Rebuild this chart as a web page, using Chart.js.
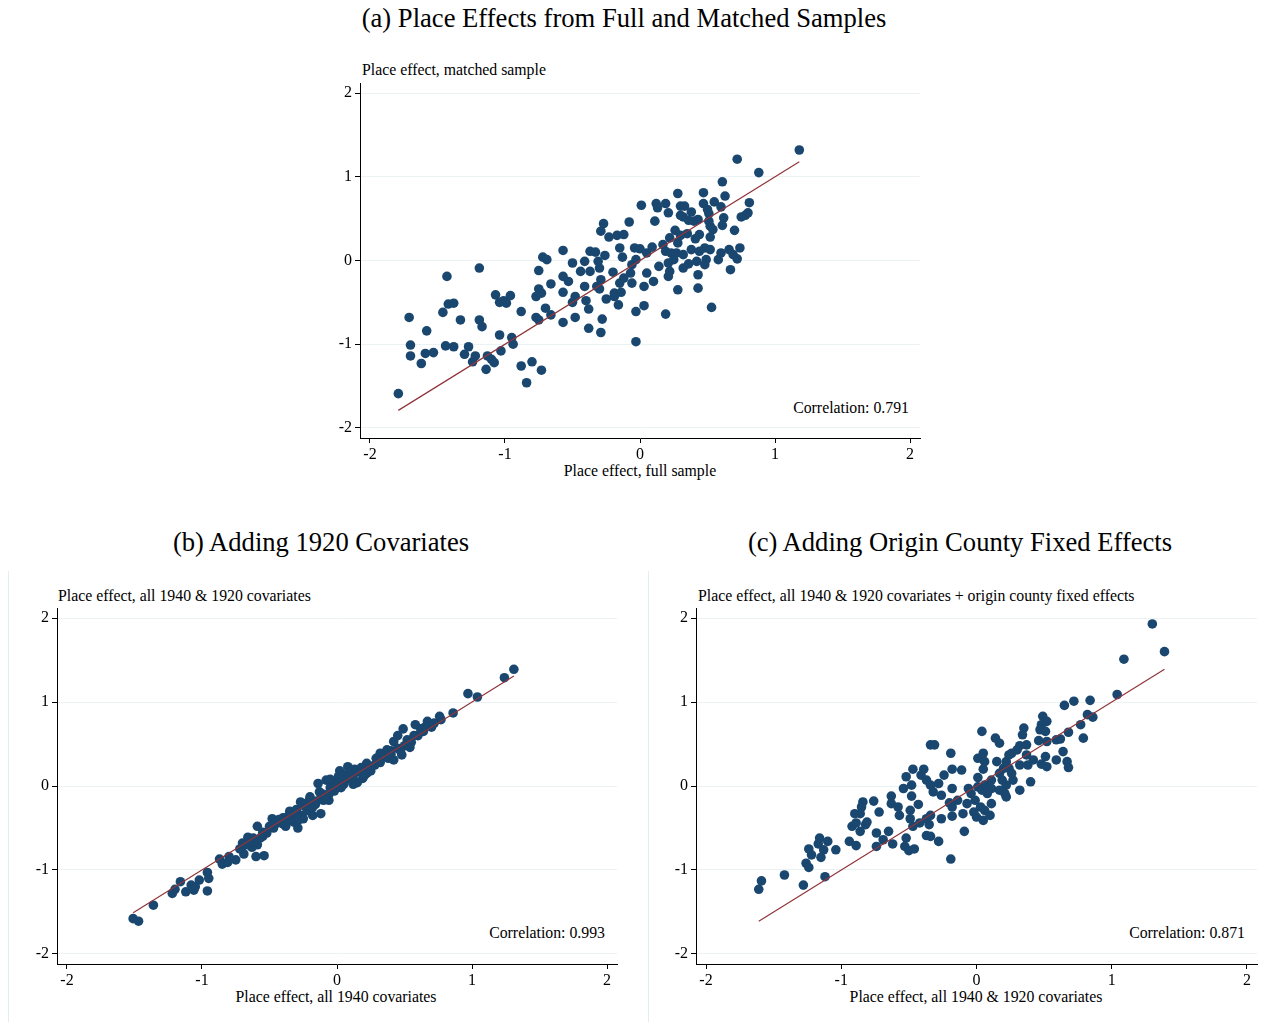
<!DOCTYPE html>
<html>
<head>
<meta charset="utf-8">
<script src="https://cdn.jsdelivr.net/npm/chart.js@4.4.1/dist/chart.umd.min.js"></script>
<style>
    body {
        margin: 0;
        width: 1262px;
        height: 1022px;
        overflow: hidden;
        position: relative;
        background: #fff;
        color: #000;
        font-family: 'Times New Roman', 'Liberation Serif', serif;
    }
    canvas { position: absolute; }
    .txt { position: absolute; white-space: nowrap; line-height: 1; }
    .title { font-size: 26.6px; transform: translate(-50%, -50%); }
    .ytitle { font-size: 15.8px; transform: translateY(-50%); }
    .xtitle { font-size: 15.8px; transform: translate(-50%, -50%); }
    .corr { font-size: 15.8px; transform: translateY(-50%); text-align: right; }
    .frame { position: absolute; top: 571px; height: 451px; border-left: 1px solid #e4edf0; }
</style>
</head>
<body>
<div class="frame" style="left:8px"></div>
<div class="frame" style="left:648px"></div>

<div class="txt title" style="left:624px; top:18px">(a) Place Effects from Full and Matched Samples</div>
<div class="txt ytitle" style="left:362px; top:70px">Place effect, matched sample</div>
<div class="txt xtitle" style="left:640px; top:471px">Place effect, full sample</div>
<div class="txt corr" id="corrA" style="right:353px; top:408px"></div>
<canvas id="chartA" width="640" height="430" style="left:300px; top:60px"></canvas>

<div class="txt title" style="left:321px; top:542px">(b) Adding 1920 Covariates</div>
<div class="txt ytitle" style="left:58px; top:596px">Place effect, all 1940 &amp; 1920 covariates</div>
<div class="txt xtitle" style="left:336px; top:997px">Place effect, all 1940 covariates</div>
<div class="txt corr" id="corrB" style="right:657px; top:933px"></div>
<canvas id="chartB" width="640" height="432" style="left:0px; top:590px"></canvas>

<div class="txt title" style="left:960px; top:542px">(c) Adding Origin County Fixed Effects</div>
<div class="txt ytitle" style="left:698px; top:596px">Place effect, all 1940 &amp; 1920 covariates + origin county fixed effects</div>
<div class="txt xtitle" style="left:976px; top:997px">Place effect, all 1940 &amp; 1920 covariates</div>
<div class="txt corr" id="corrC" style="right:17px; top:933px"></div>
<canvas id="chartC" width="622" height="432" style="left:640px; top:590px"></canvas>

<script>
// tick values shared by all axes
const tickValues = [-2, -1, 0, 1, 2];

// correlations printed in each panel
const corrA = 0.791;
const corrB = 0.993;
const corrC = 0.871;

// (a) full sample (x) vs matched sample (y)
const fullVsMatched = [
    [-1.79,-1.59],[-1.71,-0.68],[-1.70,-1.01],[-1.70,-1.14],[-1.62,-1.23],[-1.59,-1.11],[-1.53,-1.10],
    [-1.58,-0.84],[-1.44,-1.02],[-1.38,-1.03],[-1.46,-0.62],[-1.43,-0.19],[-1.42,-0.52],[-1.38,-0.51],
    [-1.33,-0.71],[-1.30,-1.12],[-1.27,-1.03],[-1.24,-1.21],[-1.22,-1.14],[-1.19,-0.09],[-1.19,-0.71],
    [-1.17,-0.79],[-1.14,-1.30],[-1.13,-1.14],[-1.10,-1.18],[-1.08,-1.22],[-1.07,-0.41],[-1.04,-0.50],
    [-1.01,-0.48],[-0.99,-0.51],[-0.96,-0.42],[-1.04,-0.89],[-1.03,-1.08],[-0.95,-0.92],[-0.94,-1.00],
    [-0.88,-0.61],[-0.88,-1.26],[-0.84,-1.46],[-0.80,-1.21],[-0.77,-0.43],[-0.75,-0.34],[-0.77,-0.68],
    [-0.75,-0.71],[-0.75,-0.12],[-0.73,-1.31],[-0.03,-0.97],
    [1.18,1.32],[0.72,1.21],[0.88,1.05],[0.61,0.94],[0.28,0.80],[0.47,0.81],[0.63,0.77],[0.01,0.66],
    [0.12,0.68],[0.13,0.63],[0.19,0.68],[0.21,0.57],[0.30,0.65],[0.33,0.65],[0.47,0.68],[0.55,0.70],
    [0.50,0.61],[0.60,0.64],[0.81,0.69],[0.38,0.58],[0.30,0.54],[0.32,0.52],[0.36,0.48],[0.40,0.47],
    [0.43,0.49],[0.51,0.56],[0.51,0.47],[0.52,0.41],[0.54,0.37],[0.62,0.51],[0.61,0.42],[0.75,0.52],
    [0.78,0.54],[0.80,0.57],[0.70,0.36],[-0.27,0.44],[-0.08,0.46],[0.11,0.47],[-0.29,0.35],[-0.23,0.28],
    [-0.17,0.30],[-0.12,0.31],[0.26,0.36],[0.30,0.30],[0.35,0.32],[0.44,0.31],[0.41,0.26],[0.52,0.28],
    [0.22,0.27],[0.28,0.21],[-0.57,0.12],[-0.72,0.04],[-0.69,0.01],[-0.37,0.11],[-0.33,0.10],[-0.26,0.06],
    [-0.15,0.15],[-0.13,0.04],[-0.04,0.15],[0.00,0.14],[0.05,0.09],[0.09,0.16],[0.17,0.19],[0.19,0.11],
    [0.23,0.09],[0.27,0.09],[0.32,0.07],[0.38,0.13],[0.44,0.11],[0.48,0.15],[0.52,0.13],[0.60,0.09],
    [0.66,0.13],[0.74,0.15],[0.69,0.07],[0.72,0.02],[0.58,0.01],[0.49,0.01],[0.42,-0.01],[0.36,-0.04],
    [0.48,-0.05],[0.32,-0.09],[0.25,0.01],[0.21,-0.03],[0.14,-0.07],[0.22,-0.13],[0.21,-0.19],[0.43,-0.17],
    [0.67,-0.11],[0.05,-0.15],[0.10,-0.25],[0.03,-0.31],[-0.06,-0.05],[-0.03,0.01],[-0.07,-0.15],
    [-0.12,-0.21],[-0.15,-0.27],[-0.06,-0.27],[-0.20,-0.14],[-0.30,-0.09],[-0.31,-0.01],[-0.41,-0.01],
    [-0.44,-0.13],[-0.37,-0.13],[-0.50,-0.03],[-0.57,-0.19],[-0.53,-0.25],[-0.66,-0.28],[-0.73,-0.39],
    [-0.57,-0.38],[-0.41,-0.31],[-0.32,-0.31],[-0.29,-0.23],[-0.30,-0.34],[-0.19,-0.39],[-0.14,-0.38],
    [-0.19,-0.43],[-0.25,-0.46],[-0.16,-0.53],[-0.48,-0.43],[-0.50,-0.50],[-0.40,-0.48],[-0.38,-0.58],
    [-0.70,-0.57],[-0.66,-0.65],[-0.57,-0.74],[-0.48,-0.68],[-0.28,-0.70],[-0.38,-0.81],[-0.29,-0.86],
    [-0.03,-0.61],[0.03,-0.54],[0.19,-0.64],[0.28,-0.35],[0.43,-0.33],[0.53,-0.56]
];

// (b) all 1940 covariates (x) vs all 1940 & 1920 covariates (y)
const with1920 = [
    [-1.51,-1.58],[-1.47,-1.61],[-1.36,-1.42],[-1.22,-1.28],[-1.20,-1.23],[-1.16,-1.14],[-1.12,-1.26],
    [-1.08,-1.18],[-1.06,-1.24],[-1.02,-1.12],[-1.05,-1.20],[-0.96,-1.25],[-0.95,-1.10],[-0.96,-1.03],
    [-0.87,-0.87],[-0.85,-0.93],[-0.81,-0.91],[-0.75,-0.88],[-0.69,-0.81],[-0.70,-0.72],[-0.66,-0.61],
    [-0.63,-0.73],[-0.60,-0.84],[-0.59,-0.70],[-0.54,-0.83],[-0.59,-0.48],[-0.55,-0.60],[-0.52,-0.56],
    [-0.48,-0.39],[-0.44,-0.44],[-0.38,-0.48],[-0.37,-0.37],[-0.32,-0.43],[-0.29,-0.50],[-0.26,-0.35],
    [-0.25,-0.39],[-0.27,-0.19],[-0.25,-0.23],[-0.18,-0.35],[-0.12,-0.33],[-0.12,-0.09],[-0.10,-0.17],
    [-0.06,-0.17],[-0.02,-0.06],[-0.18,-0.25],[-0.34,-0.35],[-0.20,-0.13],[-0.13,-0.07],[-0.14,0.03],
    [-0.08,0.07],[-0.02,0.04],[0.05,0.02],[0.01,0.11],[0.10,0.17],[0.08,0.23],[0.15,0.04],[0.19,0.09],
    [0.17,0.17],[0.22,0.15],[0.22,0.27],[0.29,0.33],[0.32,0.39],[0.37,0.43],[0.42,0.31],[0.48,0.37],
    [0.54,0.46],[0.42,0.53],[0.45,0.60],[0.49,0.68],[0.64,0.65],[0.58,0.73],[0.67,0.77],[0.77,0.79],
    [0.76,0.83],[0.86,0.87],[1.04,1.06],[0.97,1.10],[1.24,1.29],[1.31,1.39],
    [-0.45,-0.42],[-0.40,-0.38],[-0.35,-0.30],[-0.30,-0.28],[-0.22,-0.20],[-0.20,-0.15],[-0.15,-0.18],
    [-0.10,-0.10],[-0.05,-0.02],[0.00,0.05],[0.03,-0.02],[0.07,0.10],[0.12,0.12],[0.15,0.18],[0.25,0.22],
    [0.28,0.25],[0.30,0.30],[0.35,0.35],[0.38,0.33],[0.40,0.42],[0.45,0.45],[0.50,0.48],[0.52,0.55],
    [0.60,0.60],[0.70,0.70],[0.62,0.68],[-0.55,-0.55],[-0.62,-0.62],[-0.66,-0.70],[-0.72,-0.75],
    [-0.80,-0.84],[-0.47,-0.50],[-0.40,-0.45],[0.20,0.22],[0.10,0.08],[-0.06,-0.10],
    [0.02,0.18],[0.08,0.15],[0.13,0.20],[0.18,0.22],[0.20,0.12],[0.25,0.18],[0.12,0.02],[0.03,0.08],
    [-0.05,0.08],[-0.70,-0.68],[-0.62,-0.66],[-0.57,-0.62],[-0.50,-0.48],[-0.43,-0.40],[-0.35,-0.40],
    [-0.30,-0.33],[-0.28,-0.40],[-0.22,-0.29],[-0.16,-0.22],[-0.08,-0.13],[0.32,0.28],[0.40,0.38],
    [0.47,0.42],[0.55,0.52],[0.57,0.60],[0.65,0.70],[0.72,0.75]
];

// (c) all 1940 & 1920 covariates (x) vs + origin county fixed effects (y)
const withCountyFE = [
    [-1.61,-1.23],[-1.59,-1.13],[-1.42,-1.06],[-1.28,-1.18],[-1.12,-1.08],[-1.26,-0.92],[-1.24,-0.97],
    [-1.24,-0.75],[-1.22,-0.82],[-1.15,-0.85],[-1.17,-0.69],[-1.16,-0.62],[-1.13,-0.76],[-1.10,-0.66],
    [-1.04,-0.76],[-0.94,-0.66],[-0.89,-0.71],[-0.92,-0.48],[-0.89,-0.44],[-0.86,-0.54],[-0.90,-0.33],
    [-0.86,-0.33],[-0.84,-0.19],[-0.85,-0.25],[-0.82,-0.46],[-0.81,-0.43],[-0.76,-0.18],[-0.72,-0.31],
    [-0.74,-0.56],[-0.74,-0.72],[-0.69,-0.64],[-0.65,-0.54],[-0.62,-0.69],[-0.63,-0.12],[-0.63,-0.21],
    [-0.58,-0.25],[-0.57,-0.35],[-0.52,0.11],[-0.47,0.20],[-0.54,-0.03],[-0.48,0.01],[-0.48,-0.12],
    [-0.43,-0.22],[-0.49,-0.29],[-0.49,-0.39],[-0.47,-0.48],[-0.52,-0.62],[-0.53,-0.72],[-0.50,-0.77],
    [-0.46,-0.75],[-0.42,-0.44],[-0.37,-0.59],[-0.34,-0.60],[-0.35,-0.46],[-0.37,-0.39],[-0.34,-0.35],
    [-0.39,0.20],[-0.41,0.13],[-0.37,0.07],[-0.34,0.01],[-0.34,0.49],[-0.31,0.49],[-0.32,-0.07],
    [-0.28,0.03],[-0.26,-0.11],[-0.28,-0.66],[-0.26,-0.39],[-0.24,0.13],[-0.19,0.39],[-0.18,0.20],
    [-0.18,-0.03],[-0.20,-0.20],[-0.18,-0.25],[-0.18,-0.36],[-0.19,-0.87],[-0.14,-0.17],[-0.09,-0.54],
    [1.04,1.09],[0.84,1.02],[0.72,1.01],[0.65,0.96],[0.82,0.85],[0.86,0.82],[0.77,0.73],[0.79,0.57],
    [0.68,0.64],[0.49,0.83],[0.52,0.77],[0.48,0.73],[0.47,0.67],[0.51,0.65],[0.35,0.69],[0.34,0.61],
    [0.46,0.54],[0.52,0.53],[0.59,0.55],[0.62,0.56],[0.64,0.41],[0.59,0.31],[0.67,0.29],[0.68,0.22],
    [0.51,0.35],[0.48,0.26],[0.52,0.23],[0.42,0.31],[0.37,0.49],[0.32,0.48],[0.30,0.43],[0.37,0.37],
    [0.32,0.25],[0.38,0.25],[0.40,0.05],[0.26,0.39],[0.24,0.37],[0.22,0.29],[0.24,0.21],[0.26,0.15],
    [0.27,0.07],[0.32,-0.05],[0.20,0.21],[0.17,0.15],[0.19,0.07],[0.22,0.01],[0.15,0.29],[0.14,0.57],
    [0.17,0.51],[0.04,0.65],[0.05,0.39],[0.01,0.33],[0.06,0.29],[0.05,0.20],[0.01,0.10],[0.06,0.01],
    [0.11,0.07],[0.11,-0.03],[0.04,-0.05],[0.01,-0.01],[0.08,-0.09],[0.11,-0.21],[0.21,-0.09],
    [0.22,-0.13],[0.17,-0.05],[-0.06,-0.03],[-0.04,-0.09],[-0.01,-0.17],[0.03,-0.25],[0.06,-0.29],
    [0.10,-0.35],[0.00,-0.37],[-0.07,-0.21],[-0.10,-0.33],[-0.11,0.19],[0.05,-0.41],[-0.02,-0.31],
    [1.30,1.93],[1.09,1.51],[1.39,1.60]
];

const fontFamily = "'Times New Roman', 'Liberation Serif', serif";
const navy = '#1a476f';
const maroon = '#90353b';

// 45-degree reference line over the range of the x values
function diagonal(points) {
    const xs = points.map(p => p[0]);
    const lo = Math.min(...xs), hi = Math.max(...xs);
    return [{ x: lo, y: lo }, { x: hi, y: hi }];
}

function makeChart(id, points, yAxisWidth, xAxisHeight, padding) {
    const ctx = document.getElementById(id).getContext('2d');
    const tickFont = { family: fontFamily, size: 16 };
    return new Chart(ctx, {
        type: 'scatter',
        data: {
            datasets: [
                {
                    type: 'line',
                    data: diagonal(points),
                    borderColor: maroon,
                    borderWidth: 1.2,
                    pointRadius: 0,
                    fill: false,
                    order: 0
                },
                {
                    data: points.map(p => ({ x: p[0], y: p[1] })),
                    backgroundColor: navy,
                    borderWidth: 0,
                    pointRadius: 4.8,
                    order: 1
                }
            ]
        },
        options: {
            responsive: false,
            animation: false,
            layout: { padding: padding },
            plugins: { legend: { display: false }, tooltip: { enabled: false } },
            scales: {
                x: {
                    type: 'linear',
                    min: -2.074,
                    max: 2.074,
                    afterBuildTicks: s => { s.ticks = tickValues.map(v => ({ value: v })); },
                    afterFit: s => { s.height = xAxisHeight; },
                    grid: { drawOnChartArea: false, tickLength: 5, tickColor: '#000' },
                    border: { color: '#000', width: 1 },
                    ticks: { color: '#000', font: tickFont, padding: 2, maxRotation: 0 }
                },
                y: {
                    type: 'linear',
                    min: -2.12,
                    max: 2.12,
                    afterBuildTicks: s => { s.ticks = tickValues.map(v => ({ value: v })); },
                    afterFit: s => { s.width = yAxisWidth; },
                    grid: { color: '#eaf2f3', tickColor: '#000', tickLength: 5 },
                    border: { color: '#000', width: 1 },
                    ticks: { color: '#000', font: tickFont, padding: 3 }
                }
            }
        }
    });
}

document.getElementById('corrA').textContent = 'Correlation: ' + corrA.toFixed(3);
document.getElementById('corrB').textContent = 'Correlation: ' + corrB.toFixed(3);
document.getElementById('corrC').textContent = 'Correlation: ' + corrC.toFixed(3);

makeChart('chartA', fullVsMatched, 60, 52, { top: 23, right: 20, left: 0, bottom: 0 });
makeChart('chartB', with1920, 57, 58, { top: 18, right: 23, left: 0, bottom: 0 });
makeChart('chartC', withCountyFE, 56, 58, { top: 18, right: 5, left: 0, bottom: 0 });
</script>
</body>
</html>
